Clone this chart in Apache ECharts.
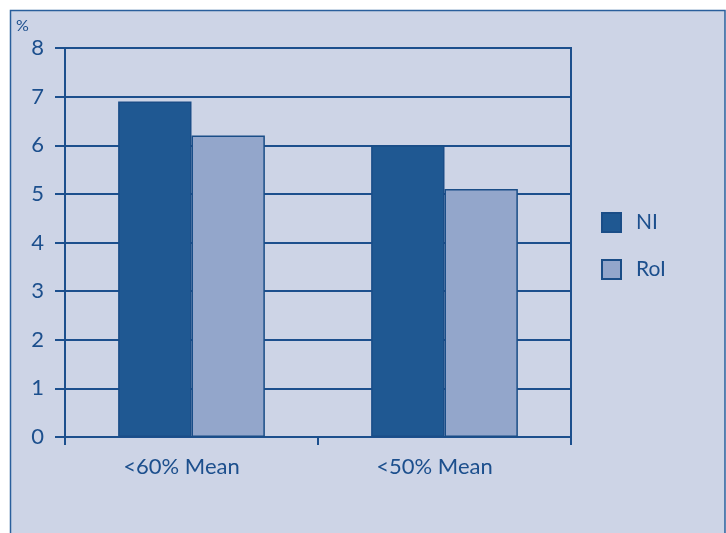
<!DOCTYPE html>
<html>
<head>
<meta charset="utf-8">
<script src="https://cdn.jsdelivr.net/npm/echarts@6/dist/echarts.min.js"></script>
<style>
html,body{margin:0;padding:0;background:#ffffff;}
#chart{width:726px;height:533px;}
</style>
</head>
<body>
<div id="chart"></div>
<script>
var categories = ['<60% Mean', '<50% Mean'];
var seriesNames = ['NI', 'RoI'];
var niValues = [6.9, 6.0];
var roiValues = [6.2, 5.1];
var yTicks = [0, 1, 2, 3, 4, 5, 6, 7, 8];

var dark = '#1c4f8d';
var bg = '#cdd4e6';
var chart = echarts.init(document.getElementById('chart'));
var font = 'Lato, "Open Sans", sans-serif';

chart.setOption({
  backgroundColor: '#ffffff',
  animation: false,
  graphic: [
    {
      type: 'rect', z: -10,
      shape: {x: 10.5, y: 10.5, width: 714.5, height: 540},
      style: {fill: bg, stroke: '#2a5f9c', lineWidth: 1.5}
    },
    {
      type: 'text', left: 16, top: 18,
      style: {text: '%', fill: dark, font: '16px ' + font}
    }
  ],
  grid: {
    left: 65, right: 155, top: 48, bottom: 96,
    show: true, borderColor: dark, borderWidth: 2, backgroundColor: 'transparent'
  },
  legend: {
    orient: 'vertical', left: 601, top: 212, padding: 0,
    itemWidth: 19, itemHeight: 19, itemGap: 26,
    icon: 'rect',
    textStyle: {color: dark, fontSize: 21, fontFamily: font, padding: [0, 0, 0, 10]},
    data: seriesNames
  },
  xAxis: {
    type: 'category',
    data: categories,
    axisLine: {lineStyle: {color: dark, width: 2}},
    axisTick: {show: true, length: 8, lineStyle: {color: dark, width: 2}},
    axisLabel: {color: dark, fontSize: 22, fontFamily: font, margin: 19, padding: [0, 20, 0, 0]}
  },
  yAxis: {
    type: 'value', min: 0, max: 8, interval: 1,
    axisLine: {show: true, lineStyle: {color: dark, width: 2}},
    axisTick: {show: true, length: 10, lineStyle: {color: dark, width: 2}},
    axisLabel: {
      color: dark, fontSize: 22, fontFamily: font, margin: 21,
      formatter: function (v) { return yTicks.indexOf(v) >= 0 ? String(v) : ''; }
    },
    splitLine: {show: true, lineStyle: {color: dark, width: 2}}
  },
  series: [
    {
      name: seriesNames[0], type: 'bar', data: niValues,
      barGap: '0%', barCategoryGap: '42%',
      itemStyle: {color: '#1f5892', borderColor: '#1a4d87', borderWidth: 1.5}
    },
    {
      name: seriesNames[1], type: 'bar', data: roiValues,
      barGap: '0%', barCategoryGap: '42%',
      itemStyle: {color: '#93a6cb', borderColor: '#1a4d87', borderWidth: 1.5}
    }
  ]
});
</script>
</body>
</html>
